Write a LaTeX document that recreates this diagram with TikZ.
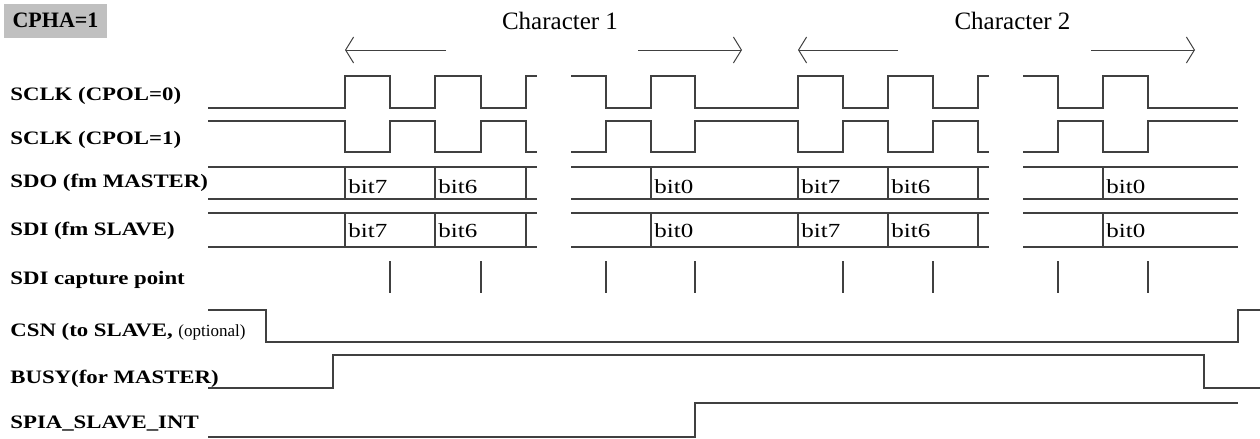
\documentclass[tikz,border=0pt]{standalone}
\usepackage{fontspec}
\setmainfont{Liberation Serif}
\newfontfamily\lblfont[FakeStretch=1.2]{Liberation Serif}
\newfontfamily\bitfont[FakeStretch=1.25]{Liberation Serif}
\usetikzlibrary{arrows.meta}
\definecolor{wire}{RGB}{64,64,64}
\definecolor{boxgray}{RGB}{192,192,192}
\begin{document}
\begin{tikzpicture}[x=0.5pt,y=-0.5pt,
  sig/.style={draw=wire,line width=0.9pt},
  lbl/.style={anchor=base west,inner sep=0pt,font=\lblfont\bfseries\fontsize{9.5}{11}\selectfont},
  bit/.style={anchor=base west,inner sep=0pt,font=\bitfont\fontsize{10}{12}\selectfont},
  chr/.style={anchor=base,inner sep=0pt,font=\fontsize{12.5}{15}\selectfont},
  arr/.style={draw=wire,line width=0.5pt,-{Straight Barb[length=4pt,width=13pt]}}]

\useasboundingbox (0,0) rectangle (1260,439);

\node[fill=boxgray,minimum width=51.5pt,minimum height=17pt,inner sep=0pt,
  font=\bfseries\fontsize{11}{13}\selectfont] (cpha) at (55.5,20.5) {CPHA=1};
\node[chr] (charA) at (560,30) {Character 1};
\node[chr] (charB) at (1012.5,30) {Character 2};

\draw[arr] (446,50) -- (345,50);
\draw[arr] (638,50) -- (742,50);
\draw[arr] (898,50) -- (798,50);
\draw[arr] (1091,50) -- (1195,50);

\node[lbl] (sclkA) at (10,100) {SCLK (CPOL=0)};
\node[lbl] (sclkB) at (10,144) {SCLK (CPOL=1)};
\node[lbl] (sdo) at (10,187) {SDO (fm MASTER)};
\node[lbl] (sdi) at (10,235) {SDI (fm SLAVE)};
\node[lbl] (cap) at (10,284) {SDI capture point};
\node[lbl] (csn) at (10,336) {CSN (to SLAVE, {\normalfont\fontsize{8.5}{10}\selectfont(optional)}};
\node[lbl] (busy) at (10,383) {BUSY(for MASTER)};
\node[lbl] (spia) at (10,428) {SPIA\_SLAVE\_INT};

\foreach \idle/\act in {108/76,121/152}{
\draw[sig] (208,\idle) -- (345,\idle) -- (345,\act) -- (390,\act) -- (390,\idle)
  -- (435,\idle) -- (435,\act) -- (481,\act) -- (481,\idle) -- (526,\idle)
  -- (526,\act) -- (537,\act);
\draw[sig] (571,\act) -- (606,\act) -- (606,\idle) -- (651,\idle) -- (651,\act)
  -- (695,\act) -- (695,\idle) -- (798,\idle) -- (798,\act) -- (843,\act)
  -- (843,\idle) -- (888,\idle) -- (888,\act) -- (933,\act) -- (933,\idle)
  -- (978,\idle) -- (978,\act) -- (989,\act);
\draw[sig] (1023,\act) -- (1058,\act) -- (1058,\idle) -- (1103,\idle) -- (1103,\act)
  -- (1148,\act) -- (1148,\idle) -- (1238,\idle);
}

\foreach \t/\b in {167/199,213/247}{
\draw[sig] (208,\t) -- (537,\t) (208,\b) -- (537,\b);
\draw[sig] (571,\t) -- (989,\t) (571,\b) -- (989,\b);
\draw[sig] (1023,\t) -- (1238,\t) (1023,\b) -- (1238,\b);
\foreach \x in {345,435,526,651,798,888,978,1103}
  \draw[sig] (\x,\t) -- (\x,\b);
}

\foreach \x/\t in {345/bit7,435/bit6,651/bit0,798/bit7,888/bit6,1103/bit0}{
\node[bit] (o\x) at (\x+3,193) {\t};
\node[bit] (i\x) at (\x+3,237) {\t};
}

\foreach \x in {390,481,606,695,843,933,1058,1148}
  \draw[sig] (\x,261) -- (\x,293);

\draw[sig] (208,310) -- (266,310) -- (266,342) -- (1238,342) -- (1238,310) -- (1260,310);
\draw[sig] (208,388) -- (333,388) -- (333,355) -- (1204,355) -- (1204,388) -- (1260,388);
\draw[sig] (208,437) -- (695,437) -- (695,403) -- (1238,403);
\end{tikzpicture}
\end{document}
